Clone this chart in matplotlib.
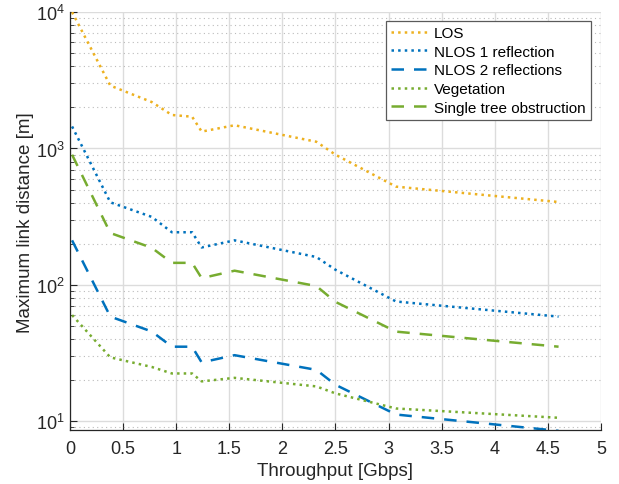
import matplotlib
matplotlib.use("Agg")
import matplotlib.pyplot as plt
from matplotlib.ticker import LogLocator, NullFormatter

plt.rcParams['font.family'] = ['Liberation Sans', 'DejaVu Sans']
plt.rcParams['mathtext.fontset'] = 'custom'
plt.rcParams['mathtext.rm'] = 'Liberation Sans'

# throughput [Gbps] knots
throughput = [0.02, 0.38, 0.77, 0.96, 1.15, 1.24, 1.55, 2.32, 2.5, 3.07, 4.6]

# maximum link distance [m]
los = [10000, 2890, 2190, 1760, 1710, 1330, 1480, 1120, 900, 525, 405]
nlos1 = [1450, 403, 315, 243, 243, 188, 212, 160, 129, 75.5, 58.5]
nlos2 = [212, 58.5, 45.5, 35.2, 35.2, 27, 30.5, 23.8, 18.5, 11.2, 8.5]
vegetation = [60, 29.4, 25, 22.4, 22.4, 19.6, 20.8, 18, 16, 12.4, 10.6]
tree = [900, 240, 187, 145, 145, 112, 127, 98, 75, 45.4, 35.2]

labels = ['LOS', 'NLOS 1 reflection', 'NLOS 2 reflections', 'Vegetation',
          'Single tree obstruction']
xticks = [0, 0.5, 1, 1.5, 2, 2.5, 3, 3.5, 4, 4.5, 5]
xticklabels = ['0', '0.5', '1', '1.5', '2', '2.5', '3', '3.5', '4', '4.5', '5']

yellow = '#EDB120'
blue = '#0072BD'
green = '#77AC30'

fig = plt.figure(figsize=(6.19, 4.85), dpi=100)
ax = fig.add_axes([0.113, 0.111, 0.858, 0.862])

ax.plot(throughput, los, ':', color=yellow, lw=1.8, label=labels[0])
ax.plot(throughput, nlos1, ':', color=blue, lw=1.8, label=labels[1])
ax.plot(throughput, nlos2, '--', color=blue, lw=1.8, dashes=(5, 4), label=labels[2])
ax.plot(throughput, vegetation, ':', color=green, lw=1.8, label=labels[3])
ax.plot(throughput, tree, '--', color=green, lw=1.8, dashes=(5, 4), label=labels[4])

ax.set_yscale('log')
ax.set_xlim(0, 5)
ax.set_ylim(8.6, 10000)
ax.set_xticks(xticks)
ax.set_xticklabels(xticklabels)
ax.yaxis.set_major_locator(LogLocator(base=10, numticks=10))
ax.yaxis.set_minor_locator(LogLocator(base=10, subs=range(2, 10), numticks=20))
ax.yaxis.set_minor_formatter(NullFormatter())

ax.grid(True, which='major', color='#DCDCDC', lw=1.0, ls='-')
ax.grid(True, which='minor', axis='y', color='#BBBBBB', lw=0.8, ls=(0, (1, 3)))
ax.set_axisbelow(True)

for side in ['top', 'right']:
    ax.spines[side].set_visible(False)
for side in ['left', 'bottom']:
    ax.spines[side].set_color('#262626')
    ax.spines[side].set_linewidth(0.9)

ax.tick_params(which='both', direction='in', colors='#262626', labelsize=13)
ax.tick_params(axis='x', pad=7)
ax.tick_params(which='major', length=5)
ax.tick_params(which='minor', length=3)

ax.set_xlabel('Throughput [Gbps]', fontsize=13.5, color='#262626', labelpad=4)
ax.set_ylabel('Maximum link distance [m]', fontsize=13.5, color='#262626', labelpad=2)

leg = ax.legend(loc='upper right', bbox_to_anchor=(0.981, 0.979), fontsize=11,
                handlelength=2.5, handletextpad=0.3, labelspacing=0.3,
                borderpad=0.35, borderaxespad=0, fancybox=False, framealpha=1)
leg.get_frame().set_edgecolor('#5a5a5a')
leg.get_frame().set_linewidth(0.9)

fig.savefig('out.png', dpi=100)
